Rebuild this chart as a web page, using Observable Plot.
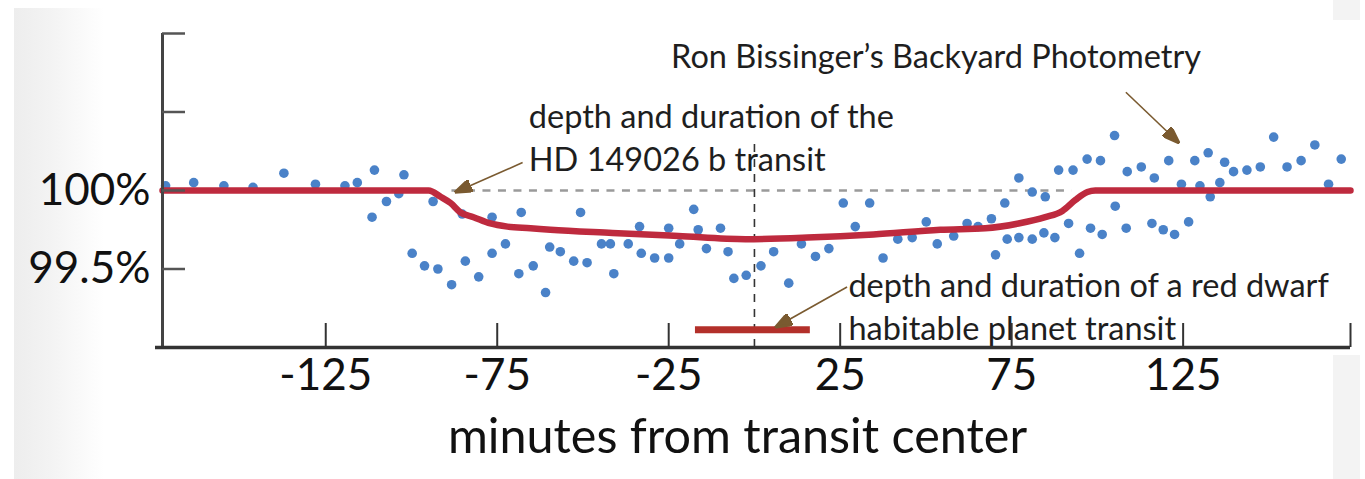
<!DOCTYPE html>
<html>
<head>
<meta charset="utf-8">
<script src="https://cdn.jsdelivr.net/npm/d3@7"></script>
<script src="https://cdn.jsdelivr.net/npm/@observablehq/plot@0.6"></script>
<style>
  html, body { margin: 0; padding: 0; background: #fff; }
  #wrap { position: relative; width: 1365px; height: 479px; overflow: hidden; background: #fff; }
  #leftShade { position: absolute; left: 14px; top: 8px; width: 90px; height: 471px;
    background: linear-gradient(to right, #ededed, #f3f3f3 40%, #ffffff); }
  #rightStrip { position: absolute; left: 1333px; top: 0; width: 27px; height: 479px; background: #f3f3f3; }
  #rightCard { position: absolute; left: 1320px; top: 20px; width: 40px; height: 335px; background: #fff; }
  #chart { position: absolute; left: 0; top: 0; }
</style>
</head>
<body>
<div id="wrap">
  <div id="leftShade"></div>
  <div id="rightStrip"></div>
  <div id="rightCard"></div>
  <div id="chart"></div>
</div>
<script>
// ---- data ----
const xDomain = [-172.6, 173.8];
const yDomain = [99, 101];

const xTicks = [-125, -75, -25, 25, 75, 125];
const xTickLabels = ["-125", "-75", "-25", "25", "75", "125"];
const yTicks = [99.5, 100, 100.5, 101];
const yLabelTicks = [100, 99.5];
const yTickLabels = ["100%", "99.5%"];
const xAxisLabel = "minutes from transit center";

const pointMinutes = [-171.7,-163.5,-154.7,-146.2,-137.2,-128.0,-119.4,-115.8,-111.5,-110.8,-107.3,-103.7,-102.2,-99.8,-96.2,-93.7,-92.3,-88.3,-85.2,-84.3,-80.4,-76.5,-76.5,-72.6,-68.7,-68.0,-64.5,-60.9,-59.7,-56.6,-52.7,-50.7,-48.8,-44.6,-42.0,-41.0,-36.8,-33.5,-33.0,-29.1,-25.0,-25.0,-21.8,-17.7,-16.4,-14.0,-9.9,-7.7,-6.0,-2.4,1.9,5.6,10.0,13.7,17.8,21.7,25.9,29.4,33.6,37.5,41.8,46.0,50.1,53.3,58.1,62.0,65.2,69.1,70.3,73.0,73.7,77.1,77.1,81.0,81.0,84.4,84.8,87.6,88.7,91.6,92.9,94.8,97.0,98.0,100.9,101.4,105.0,105.2,108.4,108.7,112.8,115.9,116.6,119.2,120.8,122.5,124.5,126.6,128.4,129.9,132.3,132.9,135.7,137.1,139.7,143.6,147.5,151.4,155.3,159.4,163.4,167.4,171.1];
const pointPercent = [100.03,100.05,100.03,100.02,100.11,100.04,100.03,100.05,99.83,100.13,99.93,99.98,100.10,99.60,99.52,99.93,99.50,99.40,99.85,99.55,99.45,99.60,99.83,99.66,99.47,99.86,99.52,99.35,99.64,99.61,99.55,99.86,99.54,99.66,99.66,99.47,99.66,99.77,99.60,99.57,99.57,99.76,99.66,99.88,99.75,99.63,99.76,99.61,99.44,99.46,99.52,99.61,99.41,99.66,99.58,99.63,99.92,99.77,99.92,99.57,99.69,99.70,99.80,99.66,99.71,99.79,99.77,99.82,99.59,99.92,99.69,100.08,99.70,99.99,99.69,99.73,99.96,99.70,100.13,99.79,100.13,99.60,100.20,99.76,100.19,99.72,100.35,99.90,99.76,100.12,100.15,99.79,100.08,99.75,100.19,99.72,100.04,99.80,100.19,100.03,100.24,99.96,100.05,100.18,100.12,100.13,100.15,100.34,100.15,100.19,100.29,100.04,100.20];

const modelMinutes = [-172.6,-95.0,-91.5,-88.6,-85.7,-81.9,-77.0,-72.0,-65.3,-59.5,-41.4,-22.2,-2.6,15.5,34.7,54.2,67.3,77.0,84.8,89.8,93.6,97.1,99.4,173.8];
const modelPercent = [100,100,99.96,99.92,99.86,99.83,99.79,99.77,99.76,99.75,99.73,99.71,99.69,99.70,99.72,99.75,99.76,99.79,99.83,99.87,99.94,99.99,100,100];

// reference line at 100% spanning the transit, and transit centre
const baselineSpan = [-88.2, 92.6];
const baselineLevel = 100;
const centerMinute = 0;
const centerTop = 100.31;

// red dwarf habitable planet transit
const dwarfSpan = [-17.2, 16.3];
const dwarfLevel = 99.113;

// annotations
const noteTexts = ["Ron Bissinger\u2019s Backyard Photometry", "depth and duration of the\nHD 149026 b transit", "depth and duration of a red dwarf\nhabitable planet transit"];
const noteMinutes = [-24.3, -65.8, 27.4];
const notePercent = [100.866, 100.349, 99.274];

const arrowFromMinutes = [108.3, -67.6, 27.0];
const arrowFromPercent = [100.626, 100.178, 99.385];
const arrowToMinutes = [123.9, -87.4, 6.0];
const arrowToPercent = [100.301, 99.987, 99.127];

// ---- build ----
const points = pointMinutes.map((m, i) => ({m, v: pointPercent[i]}));
const model = modelMinutes.map((m, i) => ({m, v: modelPercent[i]}));
const notes = noteTexts.map((t, i) => ({t, m: noteMinutes[i], v: notePercent[i]}));
const arrows = arrowFromMinutes.map((m, i) => ({x1: m, y1: arrowFromPercent[i], x2: arrowToMinutes[i], y2: arrowToPercent[i]}));

const W = 1365, H = 479, ML = 162, MR = 15, MT = 33, MB = 132;
const innerW = W - ML - MR, innerH = H - MT - MB;

const SVGNS = "http://www.w3.org/2000/svg";
function filledArrow(color, context) {
  const doc = (context && context.document) || document;
  const marker = doc.createElementNS(SVGNS, "marker");
  marker.setAttribute("viewBox", "-11 -4 11 8");
  marker.setAttribute("markerWidth", 11);
  marker.setAttribute("markerHeight", 8);
  marker.setAttribute("refX", 0);
  marker.setAttribute("refY", 0);
  marker.setAttribute("orient", "auto");
  const p = doc.createElementNS(SVGNS, "path");
  p.setAttribute("d", "M-11,-4L0,0L-11,4Z");
  p.setAttribute("fill", color);
  marker.appendChild(p);
  return marker;
}

const chart = Plot.plot({
  width: W, height: H,
  marginLeft: ML, marginRight: MR, marginTop: MT, marginBottom: MB,
  x: {domain: xDomain, axis: null},
  y: {domain: yDomain, axis: null},
  style: {background: "transparent", fontFamily: "Lato, 'Open Sans', sans-serif", overflow: "visible"},
  marks: [
    // dashed 100% reference
    Plot.ruleY([baselineLevel], {x1: baselineSpan[0], x2: baselineSpan[1], stroke: "#9a9a9a", strokeWidth: 2.5, strokeDasharray: "8,7.5"}),
    // transit centre
    Plot.ruleX([centerMinute], {y1: yDomain[0], y2: centerTop, stroke: "#333", strokeWidth: 1.6, strokeDasharray: "8,7"}),
    // data
    Plot.dot(points, {x: "m", y: "v", r: 4.8, fill: "#4a82c8", stroke: "none"}),
    // model curve
    Plot.line(model, {x: "m", y: "v", stroke: "#be2a3e", strokeWidth: 6.5, curve: "monotone-x"}),
    // red dwarf bar
    Plot.ruleY([dwarfLevel], {x1: dwarfSpan[0], x2: dwarfSpan[1], stroke: "#b3302a", strokeWidth: 7}),
    // arrows
    Plot.link(arrows, {x1: "x1", y1: "y1", x2: "x2", y2: "y2", stroke: "#7a5a30", strokeWidth: 1.6, markerEnd: filledArrow}),
    // notes
    Plot.text(notes, {x: "m", y: "v", text: "t", textAnchor: "start", lineAnchor: "middle", fontSize: 32.5, lineHeight: 1.33, fill: "#1e1e1e"}),
    // axes
    Plot.ruleX([xDomain[0]], {y1: yDomain[0], y2: yDomain[1], stroke: "#444", strokeWidth: 3}),
    Plot.ruleY(yTicks, {stroke: "#555", strokeWidth: 2.5, insetRight: innerW - 23}),
    Plot.ruleX(xTicks.concat([xDomain[1]]), {stroke: "#333", strokeWidth: 2, insetTop: innerH - 24}),
    Plot.ruleY([yDomain[0]], {stroke: "#333", strokeWidth: 3.5, insetLeft: -7}),
    Plot.text(xTicks, {x: d => d, text: (d, i) => xTickLabels[i], frameAnchor: "bottom", lineAnchor: "top", dy: 11, fontSize: 44, fill: "#111"}),
    Plot.text(yLabelTicks, {y: d => d, text: (d, i) => yTickLabels[i], frameAnchor: "left", textAnchor: "end", dx: -12, fontSize: 44, fill: "#111"}),
    Plot.text([xAxisLabel], {text: d => d, frameAnchor: "bottom", lineAnchor: "middle", dx: -19, dy: 90, fontSize: 48.5, fill: "#111"})
  ]
});
document.getElementById("chart").appendChild(chart);
</script>
</body>
</html>
